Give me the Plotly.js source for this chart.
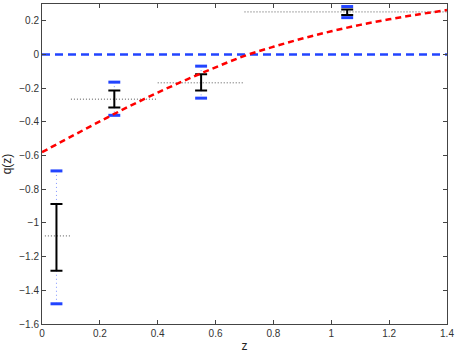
<!DOCTYPE html>
<html>
<head>
<meta charset="utf-8">
<script src="https://cdn.plot.ly/plotly-3.0.1.min.js"></script>
<style>html,body{margin:0;padding:0;background:#fff;}#chart{width:458px;height:354px;}</style>
</head>
<body>
<div id="chart"></div>
<script>
// Binned measurements
var zc    = [0.05, 0.25, 0.55, 1.055];
var zlo   = [0.01, 0.10, 0.40, 0.70];
var zhi   = [0.10, 0.40, 0.70, 1.40];
var qmean = [-1.077, -0.265, -0.168, 0.253];
var q1lo  = [-1.284, -0.314, -0.213, 0.235];
var q1hi  = [-0.887, -0.213, -0.117, 0.267];
var q2lo  = [-1.480, -0.361, -0.259, 0.219];
var q2hi  = [-0.691, -0.164, -0.069, 0.285];

// Model curve
var zModel = [0, 0.1, 0.2, 0.3, 0.4, 0.5, 0.6, 0.7, 0.8, 0.9, 1.0, 1.1, 1.2, 1.3, 1.4];
var qModel = [-0.58, -0.488, -0.397, -0.309, -0.226, -0.149, -0.076, -0.008, 0.046, 0.095, 0.138, 0.176, 0.209, 0.238, 0.264];

// Reference line q = 0
var zRef = [0, 1.4];
var qRef = [0, 0];

var BLUE = '#2244ff';

// horizontal bin lines
var hx = [], hy = [];
for (var i = 0; i < zc.length; i++) { hx.push(zlo[i], zhi[i], null); hy.push(qmean[i], qmean[i], null); }
// blue dotted connections
var vx = [], vy = [];
for (var i = 0; i < zc.length; i++) {
  vx.push(zc[i], zc[i], null, zc[i], zc[i], null);
  vy.push(q2hi[i], q1hi[i], null, q1lo[i], q2lo[i], null);
}
var cx = [], cy = [];
for (var i = 0; i < zc.length; i++) { cx.push(zc[i], zc[i]); cy.push(q2hi[i], q2lo[i]); }

var up = [], dn = [];
for (var i = 0; i < zc.length; i++) { up.push(q1hi[i] - qmean[i]); dn.push(qmean[i] - q1lo[i]); }

var traces = [
  {x: zRef, y: qRef, mode: 'lines', line: {color: BLUE, width: 2.5, dash: '8px,5px'}, hoverinfo: 'skip'},
  {x: hx, y: hy, mode: 'lines', line: {color: '#555', width: 1, dash: '1px,2px'}, hoverinfo: 'skip'},
  {x: vx, y: vy, mode: 'lines', line: {color: '#7f93ff', width: 1, dash: '1px,3px'}, hoverinfo: 'skip'},
  {x: cx, y: cy, mode: 'markers', marker: {symbol: 'line-ew', size: 8.5, line: {color: BLUE, width: 3}}, hoverinfo: 'skip'},
  {x: zc, y: qmean, mode: 'markers', marker: {size: 0.1, color: 'rgba(0,0,0,0)'},
   error_y: {type: 'data', symmetric: false, array: up, arrayminus: dn, color: '#000', thickness: 2, width: 6}, hoverinfo: 'skip'},
  {x: zModel, y: qModel, mode: 'lines', line: {color: '#ff0000', width: 2.5, dash: '6px,4px', shape: 'spline'}, hoverinfo: 'skip'}
];

var axisCommon = {
  showgrid: false, zeroline: false, showline: true, mirror: 'ticks',
  linecolor: '#444', linewidth: 1, ticks: 'inside', ticklen: 4, tickcolor: '#444',
  tickfont: {family: 'Liberation Sans, Arial, sans-serif', size: 10, color: '#333'}
};

var layout = {
  width: 458, height: 354,
  margin: {l: 42, r: 11, t: 4, b: 30},
  paper_bgcolor: '#fff', plot_bgcolor: '#fff',
  showlegend: false,
  xaxis: Object.assign({}, axisCommon, {range: [0, 1.4], tickvals: [0, 0.2, 0.4, 0.6, 0.8, 1, 1.2, 1.4],
    title: {text: 'z', font: {family: 'Liberation Sans, Arial, sans-serif', size: 12, color: '#222'}, standoff: 3}}),
  yaxis: Object.assign({}, axisCommon, {range: [-1.6, 0.3], tickvals: [-1.6, -1.4, -1.2, -1, -0.8, -0.6, -0.4, -0.2, 0, 0.2],
    title: {text: 'q(z)', font: {family: 'Liberation Sans, Arial, sans-serif', size: 12, color: '#222'}, standoff: 6}})
};

Plotly.newPlot('chart', traces, layout, {staticPlot: true, displayModeBar: false});
</script>
</body>
</html>
